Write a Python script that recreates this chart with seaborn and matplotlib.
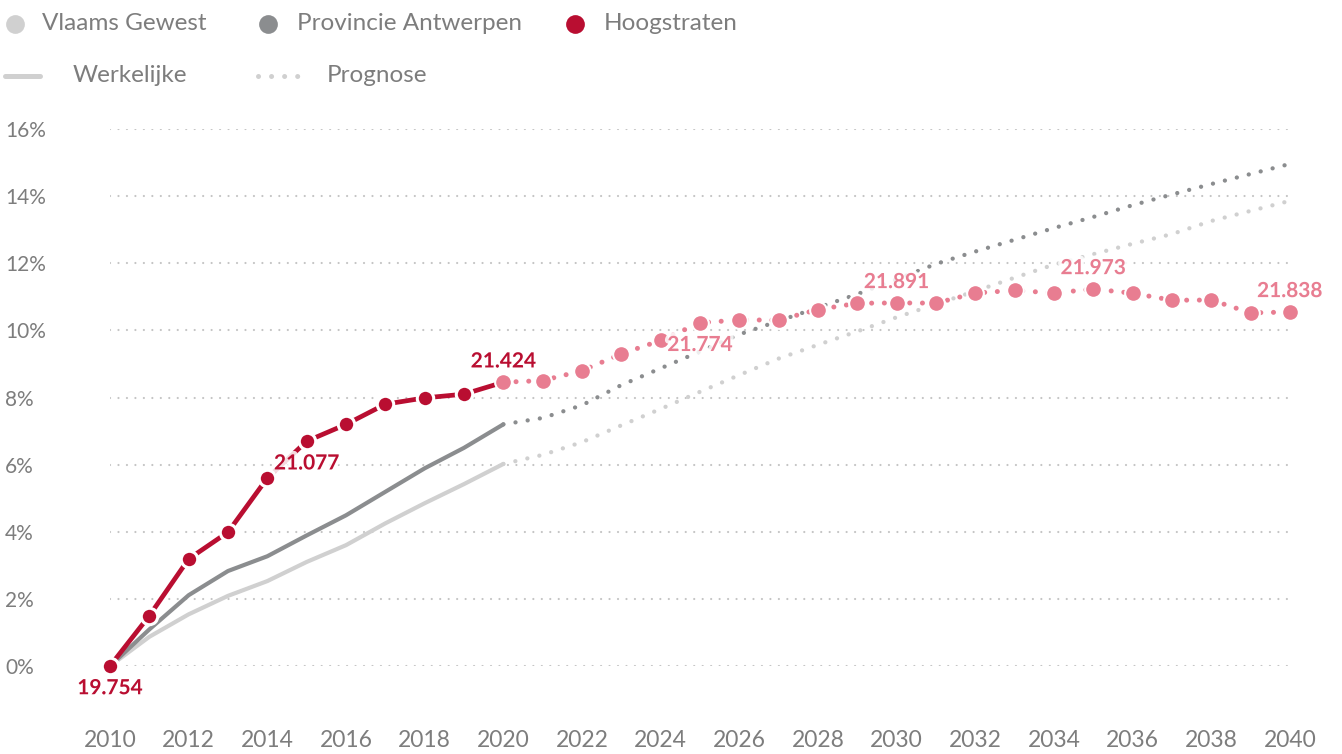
import matplotlib
matplotlib.use("Agg")
import matplotlib.pyplot as plt
import matplotlib.patheffects as pe
from matplotlib.lines import Line2D
import numpy as np
import pandas as pd
import seaborn as sns

# --- data -------------------------------------------------------------
years_actual = list(range(2010, 2021))
years_forecast = list(range(2020, 2041))

# cumulative population growth since 2010, in %
vlaams_actual = [0, 0.87, 1.54, 2.09, 2.53, 3.10, 3.60, 4.25, 4.85, 5.42, 6.02]
vlaams_forecast = [6.02, 6.29, 6.67, 7.17, 7.66, 8.17, 8.67, 9.16, 9.57, 9.97,
                   10.39, 10.78, 11.17, 11.57, 11.96, 12.27, 12.58, 12.87, 13.26,
                   13.56, 13.86]
antwerpen_actual = [0, 1.09, 2.11, 2.83, 3.27, 3.89, 4.49, 5.19, 5.89, 6.50, 7.20]
antwerpen_forecast = [7.20, 7.39, 7.77, 8.37, 8.87, 9.37, 9.88, 10.28, 10.68, 11.08,
                      11.52, 11.98, 12.35, 12.70, 13.05, 13.38, 13.73, 14.05, 14.36,
                      14.66, 14.96]

# Hoogstraten population (inhabitants)
hoog_pop_actual = [19754, 20050, 20384, 20542, 20860, 21077, 21176, 21295, 21332,
                   21354, 21424]
hoog_pop_forecast = [21424, 21434, 21492, 21591, 21670, 21774, 21791, 21790, 21852,
                     21889, 21891, 21890, 21949, 21965, 21949, 21973, 21948, 21907,
                     21908, 21832, 21838]

label_years = [2010, 2015, 2020, 2025, 2030, 2035, 2040]
label_below = [True, True, False, True, False, False, False]

y_ticks = [0, 2, 4, 6, 8, 10, 12, 14, 16]
x_ticks = list(range(2010, 2041, 2))

legend_regions = ["Vlaams Gewest", "Provincie Antwerpen", "Hoogstraten"]
legend_kinds = ["Werkelijke", "Prognose"]

# --- colours ----------------------------------------------------------
C_LIGHT = "#d0d0d0"
C_DARK = "#8b8d8f"
C_RED = "#b90e31"
C_PINK = "#e87d91"
C_TEXT = "#7d7d7d"
C_GRID = "#c4c4c4"

base = hoog_pop_actual[0]
hoog_actual = [(p / base - 1) * 100 for p in hoog_pop_actual]
hoog_forecast = [(p / base - 1) * 100 for p in hoog_pop_forecast]

sns.set_theme(style="white")
plt.rcParams["font.family"] = ["Lato", "DejaVu Sans"]

W, H = 1342, 754
fig = plt.figure(figsize=(W / 100, H / 100), dpi=100)
ax = fig.add_axes([110 / W, (H - 666) / H, 1180 / W, 537 / H])

# regional series: solid history, dotted projection
for act, fc, col in [(vlaams_actual, vlaams_forecast, C_LIGHT),
                     (antwerpen_actual, antwerpen_forecast, C_DARK)]:
    sns.lineplot(x=years_actual, y=act, ax=ax, color=col, linewidth=3.0,
                 solid_capstyle="round", zorder=2)
    sns.lineplot(x=years_forecast, y=fc, ax=ax, color=col, linewidth=3.1,
                 linestyle=(0, (0.01, 2.85)), dash_capstyle="round", zorder=2)

# Hoogstraten history
sns.lineplot(x=years_actual, y=hoog_actual, ax=ax, color=C_RED, linewidth=3.4,
             solid_capstyle="butt", zorder=3)
sns.scatterplot(x=years_actual[:-1], y=hoog_actual[:-1], ax=ax, color=C_RED,
                s=140, edgecolor="white", linewidth=2.2, zorder=4, clip_on=False)

# Hoogstraten projection
sns.lineplot(x=years_forecast, y=hoog_forecast, ax=ax, color=C_PINK, linewidth=3.6,
             linestyle=(0, (0.01, 2.53)), dash_capstyle="round", zorder=5)
sns.scatterplot(x=years_forecast, y=hoog_forecast, ax=ax, color=C_PINK,
                s=145, edgecolor="white", linewidth=1.5, zorder=6, clip_on=False)

# value labels
pop_by_year = dict(zip(years_actual, hoog_pop_actual))
pop_by_year.update(dict(zip(years_forecast, hoog_pop_forecast)))
for yr, below in zip(label_years, label_below):
    pop = pop_by_year[yr]
    pct = (pop / base - 1) * 100
    txt = f"{pop:,}".replace(",", ".")
    col = C_RED if yr <= 2020 else C_PINK
    ax.annotate(txt, (yr, pct), xytext=(0, -16 if below else 15),
                textcoords="offset points", ha="center", va="center",
                fontsize=15, fontweight="bold", color=col, zorder=7,
                annotation_clip=False,
                path_effects=[pe.withStroke(linewidth=5, foreground="white", alpha=0.85)])

# axes styling
ax.set_xlim(2010, 2040)
ax.set_ylim(0, 16)
ax.set_xticks(x_ticks)
ax.set_xticklabels([str(x) for x in x_ticks])
ax.set_yticks(y_ticks)
ax.set_yticklabels([f"{v}%" for v in y_ticks])
ax.tick_params(axis="x", length=0, pad=46, labelsize=16.5, labelcolor=C_TEXT)
ax.tick_params(axis="y", length=0, pad=75.5, labelsize=15, labelcolor=C_TEXT)
for lab in ax.get_yticklabels():
    lab.set_horizontalalignment("left")
for lab in ax.get_xticklabels() + ax.get_yticklabels():
    lab.set_fontweight("normal")
ax.set_xlabel("")
ax.set_ylabel("")
for s in ax.spines.values():
    s.set_visible(False)
ax.grid(False)
ax.yaxis.grid(True, color=C_GRID, linewidth=1.6, linestyle=(0, (0.01, 3.8)),
              dash_capstyle="round", zorder=0)
ax.xaxis.grid(False)
ax.set_axisbelow(True)

# legend, drawn in figure pixels
def fx(px):
    return px / W

def fy(py):
    return 1 - py / H

for cx, tx, col, name in [(15, 42, C_LIGHT, legend_regions[0]),
                          (268, 297, C_DARK, legend_regions[1]),
                          (575, 604, C_RED, legend_regions[2])]:
    fig.add_artist(Line2D([fx(cx)], [fy(24)], marker="o", markersize=13.5,
                          color=col, markeredgewidth=0, linestyle="none"))
    fig.text(fx(tx), fy(24), name, fontsize=17.5, fontweight="normal",
             color=C_TEXT, va="center", ha="left")

fig.add_artist(Line2D([fx(5), fx(40)], [fy(76), fy(76)], color=C_LIGHT,
                      linewidth=3.6, solid_capstyle="round"))
fig.text(fx(73), fy(76), legend_kinds[0], fontsize=17.5, fontweight="normal",
         color=C_TEXT, va="center", ha="left")
fig.add_artist(Line2D([fx(258), fx(298)], [fy(76), fy(76)], color=C_LIGHT,
                      linewidth=3.6, linestyle=(0, (0.01, 2.6)),
                      dash_capstyle="round"))
fig.text(fx(327), fy(76), legend_kinds[1], fontsize=17.5, fontweight="normal",
         color=C_TEXT, va="center", ha="left")

fig.savefig("out.png", dpi=100)
